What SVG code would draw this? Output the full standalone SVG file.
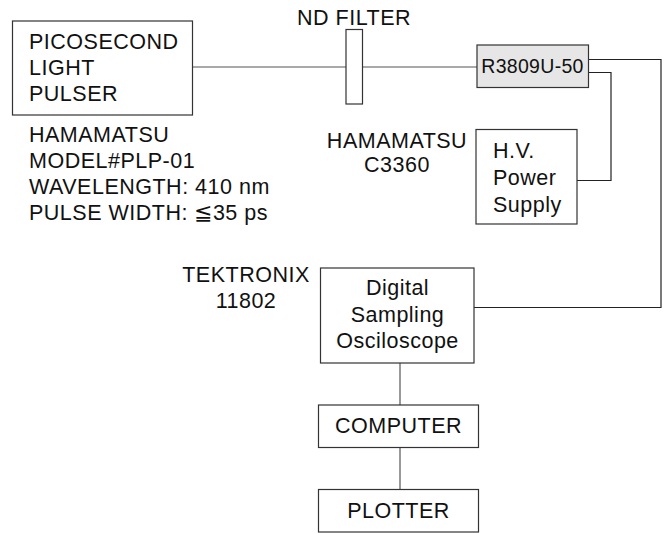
<svg xmlns="http://www.w3.org/2000/svg" width="670" height="533" viewBox="0 0 670 533">
<style>
text{font-family:"Liberation Sans",Arial,sans-serif;font-size:21.5px;letter-spacing:0.5px;fill:#111}
.box{fill:#fff;stroke:#333;stroke-width:1.2}
.c{text-anchor:middle}
.ln{fill:none;stroke:#555;stroke-width:1.2}
.lk{fill:none;stroke:#222;stroke-width:1.2}
</style>
<rect width="670" height="533" fill="#fff"/>
<g id="connectors">
<line class="ln" x1="192" y1="67" x2="346" y2="67"/>
<line class="ln" x1="362" y1="67" x2="477" y2="67"/>
<polyline class="lk" points="588,59.5 661,59.5 661,307.5 474,307.5"/>
<polyline class="lk" points="588,72.5 611,72.5 611,180.5 577,180.5"/>
<line class="ln" x1="400" y1="363" x2="400" y2="405"/>
<line class="ln" x1="400" y1="447" x2="400" y2="489"/>
</g>
<g id="pulser">
<rect class="box" x="12.5" y="21" width="180" height="94"/>
<text x="29" y="49">PICOSECOND</text>
<text x="29" y="75">LIGHT</text>
<text x="29" y="101">PULSER</text>
</g>
<g id="pulser-label">
<text x="29" y="142">HAMAMATSU</text>
<text x="29" y="167.5">MODEL#PLP-01</text>
<text x="29" y="193.5">WAVELENGTH: 410 nm</text>
<text x="29" y="219.5">PULSE WIDTH: ≦35 ps</text>
</g>
<g id="nd-filter">
<rect class="box" x="346" y="29.5" width="16.5" height="74.5"/>
<text x="297" y="25">ND FILTER</text>
</g>
<g id="pmt">
<rect x="477" y="45" width="111.5" height="42.5" fill="#e6e6e6" stroke="#333" stroke-width="1.2"/>
<text x="532.5" y="73" class="c" style="font-size:19.5px;letter-spacing:0.3px">R3809U-50</text>
</g>
<g id="hv">
<rect class="box" x="476" y="129.5" width="101" height="94.5"/>
<text x="493" y="158">H.V.</text>
<text x="493" y="185">Power</text>
<text x="493" y="211.5">Supply</text>
</g>
<g id="hv-label">
<text x="397" y="147.5" class="c">HAMAMATSU</text>
<text x="397" y="171.5" class="c">C3360</text>
</g>
<g id="oscilloscope">
<rect class="box" x="320.5" y="268" width="153.5" height="95"/>
<text x="397.5" y="295" class="c">Digital</text>
<text x="397.5" y="321.5" class="c">Sampling</text>
<text x="397.5" y="347.5" class="c">Osciloscope</text>
</g>
<g id="osc-label">
<text x="246" y="282" class="c">TEKTRONIX</text>
<text x="246" y="308" class="c">11802</text>
</g>
<g id="computer">
<rect class="box" x="318.5" y="405" width="160" height="42.5"/>
<text x="398.5" y="433" class="c">COMPUTER</text>
</g>
<g id="plotter">
<rect class="box" x="318.5" y="489.5" width="160" height="42.5"/>
<text x="398.5" y="517.5" class="c">PLOTTER</text>
</g>
</svg>
